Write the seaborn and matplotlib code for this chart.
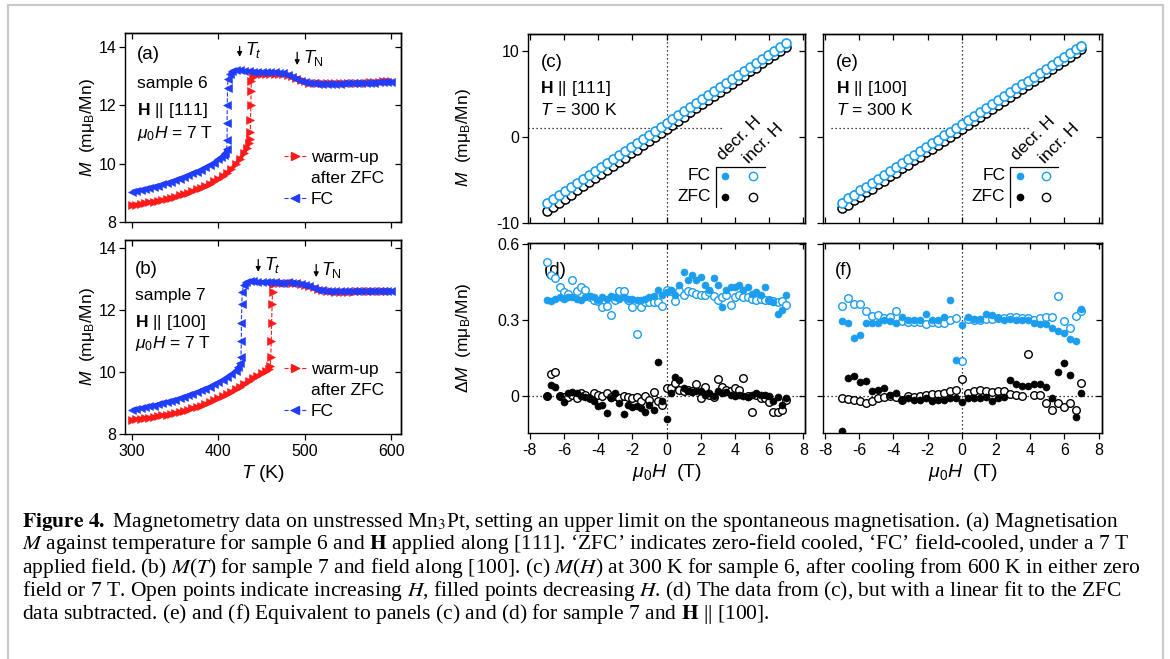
import numpy as np
import pandas as pd
import matplotlib
matplotlib.use("Agg")
import matplotlib.pyplot as plt
import seaborn as sns
from matplotlib.lines import Line2D

# ---------------------------------------------------------------- data
# (a) sample 6, H || [111], 7 T : M(T)
T_a_fc = [300, 305, 310, 315, 320, 325, 330, 335, 340, 345, 350, 355, 360, 365, 370, 375, 380, 385, 390, 395, 400,
          403, 406, 408, 409.5, 410, 410, 410.2, 410.5, 411, 413, 416,
          420, 425, 430, 435, 440, 445, 450, 455, 460, 465, 470, 475, 480, 485, 490, 495, 500, 505, 510, 515, 520,
          525, 530, 535, 540, 545, 550, 555, 560, 565, 570, 575, 580, 585, 590, 595, 600]
M_a_fc = [9.04, 9.07, 9.10, 9.13, 9.17, 9.21, 9.25, 9.29, 9.33, 9.38, 9.44, 9.49, 9.55, 9.61, 9.67, 9.73, 9.80, 9.87, 9.95, 10.04, 10.15,
          10.22, 10.30, 10.38, 10.5, 10.8, 11.4, 12.0, 12.6, 12.9, 13.08, 13.17,
          13.2, 13.2, 13.18, 13.17, 13.16, 13.15, 13.15, 13.14, 13.14, 13.13, 13.12, 13.1, 13.05, 12.98, 12.9, 12.83, 12.79, 12.76, 12.75, 12.74, 12.74,
          12.74, 12.74, 12.74, 12.74, 12.75, 12.75, 12.75, 12.76, 12.76, 12.77, 12.77, 12.78, 12.79, 12.8, 12.8, 12.81]
T_a_zfc = [300, 305, 310, 315, 320, 325, 330, 335, 340, 345, 350, 355, 360, 365, 370, 375, 380, 385, 390, 395, 400, 405, 410, 415, 420, 425, 430,
           433, 435, 436, 437, 437, 437.5, 437.8, 438, 440,
           445, 450, 455, 460, 465, 470, 475, 480, 485, 490, 495, 500, 505, 510, 515, 520, 525, 530, 535, 540, 545, 550, 555, 560,
           565, 570, 575, 580, 585, 590, 595, 600]
M_a_zfc = [8.58, 8.60, 8.62, 8.64, 8.67, 8.70, 8.73, 8.76, 8.80, 8.83, 8.87, 8.91, 8.96, 9.01, 9.06, 9.12, 9.18, 9.24, 9.31, 9.39, 9.47, 9.57, 9.68, 9.82, 9.98, 10.17, 10.38,
           10.55, 10.7, 10.85, 11.1, 11.5, 12.0, 12.5, 12.85, 13.0,
           13.05, 13.06, 13.07, 13.07, 13.07, 13.06, 13.06, 13.04, 13.0, 12.95, 12.88, 12.82, 12.78, 12.76, 12.75, 12.75, 12.75, 12.75, 12.75, 12.75, 12.76, 12.76, 12.77, 12.77,
           12.78, 12.78, 12.79, 12.8, 12.81, 12.82, 12.82, 12.83]

# (b) sample 7, H || [100], 7 T : M(T)
T_b_fc = [300, 305, 310, 315, 320, 325, 330, 335, 340, 345, 350, 355, 360, 365, 370, 375, 380, 385, 390, 395, 400, 405, 410, 415, 420,
          423, 425, 426, 426.5, 426.5, 427, 427.5, 429, 432, 436,
          440, 445, 450, 455, 460, 465, 470, 475, 480, 485, 490, 495, 500, 505, 510, 515, 520, 525, 530, 535, 540, 545, 550, 555, 560,
          565, 570, 575, 580, 585, 590, 595, 600]
M_b_fc = [8.78, 8.80, 8.83, 8.86, 8.89, 8.92, 8.96, 8.99, 9.03, 9.07, 9.11, 9.15, 9.20, 9.25, 9.30, 9.35, 9.41, 9.47, 9.53, 9.60, 9.67, 9.75, 9.84, 9.93, 10.05,
          10.15, 10.3, 10.5, 11.0, 11.6, 12.2, 12.6, 12.8, 12.9, 12.93,
          12.93, 12.92, 12.91, 12.91, 12.9, 12.9, 12.89, 12.89, 12.9, 12.89, 12.88, 12.86, 12.82, 12.77, 12.72, 12.67, 12.64, 12.62, 12.61, 12.61, 12.61, 12.61, 12.61, 12.61, 12.62,
          12.62, 12.62, 12.62, 12.62, 12.63, 12.63, 12.63, 12.63]
T_b_zfc = [300, 305, 310, 315, 320, 325, 330, 335, 340, 345, 350, 355, 360, 365, 370, 375, 380, 385, 390, 395, 400, 405, 410, 415, 420,
           425, 430, 435, 440, 445, 450, 455,
           458, 460, 460.5, 461, 461.5, 462, 462.5, 463,
           465, 470, 475, 480, 485, 490, 495, 500, 505, 510, 515, 520, 525, 530, 535, 540, 545, 550, 555, 560,
           565, 570, 575, 580, 585, 590, 595, 600]
M_b_zfc = [8.46, 8.47, 8.49, 8.51, 8.53, 8.55, 8.57, 8.60, 8.62, 8.65, 8.68, 8.71, 8.75, 8.79, 8.83, 8.87, 8.92, 8.97, 9.03, 9.09, 9.15, 9.22, 9.29, 9.37, 9.45,
           9.53, 9.62, 9.71, 9.80, 9.88, 9.96, 10.02,
           10.1, 10.2, 10.5, 11.0, 11.6, 12.2, 12.6, 12.85,
           12.87, 12.88, 12.88, 12.88, 12.88, 12.87, 12.86, 12.83, 12.79, 12.74, 12.69, 12.65, 12.63, 12.61, 12.6, 12.6, 12.6, 12.6, 12.6, 12.61,
           12.61, 12.61, 12.61, 12.62, 12.62, 12.62, 12.62, 12.62]

# transition markers (T_t, T_N) read from arrows
Tt_a, TN_a = 424.5, 491.0
Tt_b, TN_b = 446.0, 513.0

# (c), (e), (f) field grid
H_41 = [-7.0, -6.65, -6.3, -5.95, -5.6, -5.25, -4.9, -4.55, -4.2, -3.85, -3.5, -3.15, -2.8, -2.45, -2.1, -1.75, -1.4, -1.05, -0.7, -0.35, 0.0,
        0.35, 0.7, 1.05, 1.4, 1.75, 2.1, 2.45, 2.8, 3.15, 3.5, 3.85, 4.2, 4.55, 4.9, 5.25, 5.6, 5.95, 6.3, 6.65, 7.0]
# (c) M(H), sample 6, 300 K
M_c_zfc_dec = [-8.60, -8.12, -7.64, -7.17, -6.69, -6.21, -5.73, -5.26, -4.78, -4.30, -3.82, -3.35, -2.87, -2.39, -1.91, -1.44, -0.96, -0.48, 0.00, 0.47, 0.95,
               1.43, 1.90, 2.38, 2.86, 3.34, 3.81, 4.29, 4.77, 5.25, 5.72, 6.20, 6.68, 7.16, 7.63, 8.11, 8.59, 9.07, 9.54, 10.02, 10.50]
M_c_zfc_inc = [-8.62, -8.10, -7.66, -7.15, -6.70, -6.19, -5.74, -5.25, -4.79, -4.31, -3.81, -3.36, -2.86, -2.40, -1.90, -1.45, -0.95, -0.49, 0.02, 0.46, 0.97,
               1.42, 1.91, 2.37, 2.87, 3.33, 3.82, 4.28, 4.78, 5.24, 5.73, 6.19, 6.69, 7.15, 7.64, 8.10, 8.60, 9.06, 9.55, 10.01, 10.48]
M_c_fc_dec = [-7.65, -7.19, -6.72, -6.26, -5.79, -5.33, -4.86, -4.40, -3.93, -3.47, -3.00, -2.54, -2.07, -1.61, -1.14, -0.68, -0.21, 0.25, 0.72, 1.18, 1.65,
              2.12, 2.58, 3.05, 3.51, 3.98, 4.44, 4.91, 5.37, 5.84, 6.30, 6.77, 7.23, 7.70, 8.16, 8.63, 9.09, 9.56, 10.02, 10.49, 10.95]
M_c_fc_inc = [-7.70, -7.17, -6.74, -6.24, -5.80, -5.31, -4.88, -4.38, -3.95, -3.45, -3.02, -2.52, -2.09, -1.59, -1.16, -0.66, -0.23, 0.27, 0.70, 1.20, 1.67,
              2.10, 2.60, 3.03, 3.53, 3.96, 4.46, 4.89, 5.39, 5.82, 6.32, 6.75, 7.25, 7.68, 8.18, 8.61, 9.11, 9.54, 10.04, 10.47, 10.97]
# (e) M(H), sample 7, 300 K
M_e_zfc_dec = [-8.30, -7.83, -7.37, -6.90, -6.44, -5.98, -5.51, -5.05, -4.59, -4.12, -3.66, -3.19, -2.73, -2.27, -1.80, -1.34, -0.88, -0.41, 0.05, 0.52, 0.98,
               1.44, 1.91, 2.37, 2.84, 3.30, 3.76, 4.23, 4.69, 5.15, 5.62, 6.08, 6.55, 7.01, 7.47, 7.94, 8.40, 8.86, 9.33, 9.79, 10.26]
M_e_zfc_inc = [-8.28, -7.85, -7.36, -6.92, -6.43, -5.99, -5.50, -5.06, -4.58, -4.13, -3.65, -3.20, -2.72, -2.28, -1.79, -1.35, -0.87, -0.42, 0.06, 0.51, 0.99,
               1.43, 1.92, 2.36, 2.85, 3.29, 3.77, 4.22, 4.70, 5.14, 5.63, 6.07, 6.56, 7.00, 7.48, 7.93, 8.41, 8.85, 9.34, 9.78, 10.22]
M_e_fc_dec = [-7.60, -7.14, -6.68, -6.23, -5.77, -5.31, -4.85, -4.40, -3.94, -3.48, -3.02, -2.57, -2.11, -1.65, -1.19, -0.74, -0.28, 0.18, 0.63, 1.09, 1.55,
              2.01, 2.46, 2.92, 3.38, 3.84, 4.29, 4.75, 5.21, 5.67, 6.12, 6.58, 7.04, 7.50, 7.95, 8.41, 8.87, 9.33, 9.78, 10.24, 10.75]
M_e_fc_inc = [-7.62, -7.12, -6.69, -6.21, -5.78, -5.30, -4.86, -4.38, -3.95, -3.47, -3.03, -2.55, -2.12, -1.64, -1.20, -0.72, -0.29, 0.19, 0.62, 1.10, 1.56,
              2.00, 2.47, 2.91, 3.39, 3.83, 4.30, 4.74, 5.22, 5.66, 6.13, 6.57, 7.05, 7.49, 7.96, 8.40, 8.88, 9.32, 9.79, 10.22, 10.62]

# (d) Delta M, sample 6
H_57 = [-7.0, -6.75, -6.5, -6.25, -6.0, -5.75, -5.5, -5.25, -5.0, -4.75, -4.5, -4.25, -4.0, -3.75, -3.5, -3.25, -3.0, -2.75, -2.5, -2.25,
        -2.0, -1.75, -1.5, -1.25, -1.0, -0.75, -0.5, -0.25, 0.0, 0.25, 0.5, 0.75, 1.0, 1.25, 1.5, 1.75, 2.0, 2.25, 2.5, 2.75,
        3.0, 3.25, 3.5, 3.75, 4.0, 4.25, 4.5, 4.75, 5.0, 5.25, 5.5, 5.75, 6.0, 6.25, 6.5, 6.75, 7.0]
dM_d_fc_dec = [0.38, 0.375, 0.385, 0.39, 0.385, 0.39, 0.39, 0.385, 0.38, 0.39, 0.395, 0.39, 0.38, 0.39, 0.385, 0.395, 0.39, 0.385, 0.39, 0.385,
               0.385, 0.38, 0.38, 0.385, 0.39, 0.395, 0.42, 0.40, 0.41, 0.42, 0.40, 0.44, 0.49, 0.46, 0.48, 0.46, 0.47, 0.44, 0.42, 0.465,
               0.44, 0.35, 0.42, 0.43, 0.43, 0.44, 0.42, 0.43, 0.405, 0.41, 0.40, 0.43, 0.38, 0.37, 0.325, 0.34, 0.40]
dM_d_fc_inc = [0.53, 0.48, 0.465, 0.43, 0.41, 0.405, 0.46, 0.415, 0.43, 0.42, 0.39, 0.38, 0.375, 0.35, 0.355, 0.32, 0.38, 0.415, 0.415, 0.38,
               0.35, 0.245, 0.35, 0.37, 0.37, 0.37, 0.37, 0.355, 0.42, 0.415, 0.375, 0.415, 0.40, 0.415, 0.41, 0.405, 0.40, 0.40, 0.41, 0.395,
               0.38, 0.39, 0.40, 0.36, 0.39, 0.40, 0.39, 0.39, 0.385, 0.38, 0.385, 0.38, 0.38, 0.375, 0.37, 0.375, 0.36]
dM_d_zfc_dec = [0.0, 0.042, 0.036, 0.0, -0.024, 0.01, 0.016, 0.01, 0.0, -0.005, -0.01, -0.02, -0.041, -0.037, -0.067, -0.01, 0.01, -0.03, -0.07, -0.035,
                -0.045, -0.04, -0.05, -0.063, -0.035, -0.057, 0.135, -0.02, -0.09, 0.013, 0.075, 0.062, 0.03, 0.02, 0.015, 0.02, 0.02, 0.005, 0.01, 0.0,
                0.02, 0.01, 0.015, 0.005, 0.0, 0.005, 0.0, -0.005, 0.005, 0.01, 0.005, 0.005, 0.0, -0.02, -0.005, -0.037, -0.01]
dM_d_zfc_inc = [0.0, 0.085, 0.095, 0.0, -0.005, -0.005, 0.005, -0.01, 0.01, 0.005, -0.01, 0.01, 0.005, 0.0, 0.01, -0.005, 0.0, -0.01, 0.0, -0.005,
                -0.01, -0.005, -0.02, 0.0, -0.015, 0.016, -0.02, -0.037, 0.03, 0.03, 0.05, 0.025, 0.02, 0.025, 0.02, 0.046, -0.01, 0.036, 0.005, -0.005,
                0.066, 0.036, 0.025, 0.02, 0.03, 0.025, 0.07, 0.0, -0.063, 0.005, -0.01, -0.01, -0.025, -0.063, -0.063, -0.055, -0.017]

# (f) Delta M, sample 7
dM_f_fc_dec = [0.295, 0.29, 0.23, 0.24, 0.29, 0.29, 0.29, 0.30, 0.295, 0.29, 0.313, 0.30, 0.30, 0.30, 0.324, 0.30, 0.30, 0.313, 0.379, 0.143,
               0.28, 0.313, 0.305, 0.305, 0.324, 0.32, 0.31, 0.30, 0.305, 0.30, 0.30, 0.30, 0.29, 0.285, 0.285, 0.269, 0.258, 0.248, 0.225, 0.216, 0.345]
dM_f_fc_inc = [0.356, 0.389, 0.363, 0.363, 0.334, 0.317, 0.32, 0.308, 0.313, 0.334, 0.297, 0.291, 0.291, 0.291, 0.284, 0.291, 0.287, 0.287, 0.30, 0.308,
               0.136, 0.305, 0.30, 0.30, 0.304, 0.305, 0.308, 0.308, 0.313, 0.313, 0.308, 0.308, 0.30, 0.308, 0.313, 0.313, 0.396, 0.295, 0.27, 0.317, 0.335]
dM_f_zfc_dec = [-0.14, 0.07, 0.08, 0.055, 0.06, 0.02, 0.025, 0.03, 0.005, 0.01, -0.015, -0.01, -0.015, -0.017, -0.01, -0.02, -0.017, -0.015, -0.008, -0.01,
                -0.024, -0.008, -0.01, -0.01, -0.005, -0.02, -0.01, -0.005, 0.062, 0.046, 0.04, 0.04, 0.046, 0.046, 0.035, -0.01, 0.094, 0.13, 0.081, -0.083, 0.01]
dM_f_zfc_inc = [-0.01, -0.013, -0.017, -0.02, -0.028, -0.02, -0.008, -0.004, 0.0, -0.004, -0.015, 0.0, -0.004, 0.0, 0.004, 0.007, 0.007, 0.012, 0.02, 0.022,
                0.068, 0.01, 0.02, 0.022, 0.02, 0.016, 0.02, 0.02, 0.007, 0.003, 0.0, 0.164, 0.003, 0.003, -0.028, -0.054, -0.03, -0.044, -0.028, -0.054, 0.05]

# tick values
T_ticks = [300, 400, 500, 600]
MT_ticks = [8, 10, 12, 14]
H_ticks = [-8, -6, -4, -2, 0, 2, 4, 6, 8]
MH_ticks = [-10, 0, 10]
dM_ticks = [0, 0.3, 0.6]
dM_ticklabels = ["0", "0.3", "0.6"]

caption_lines = [
    r"$\mathbf{Figure\ 4.}$ Magnetometry data on unstressed Mn$_3$Pt, setting an upper limit on the spontaneous magnetisation. (a) Magnetisation",
    r"$M$ against temperature for sample 6 and $\mathbf{H}$ applied along [111]. ‘ZFC’ indicates zero-field cooled, ‘FC’ field-cooled, under a 7 T",
    r"applied field. (b) $M$($T$) for sample 7 and field along [100]. (c) $M$($H$) at 300 K for sample 6, after cooling from 600 K in either zero",
    r"field or 7 T. Open points indicate increasing $H$, filled points decreasing $H$. (d) The data from (c), but with a linear fit to the ZFC",
    r"data subtracted. (e) and (f) Equivalent to panels (c) and (d) for sample 7 and $\mathbf{H}$ || [100].",
]

# ---------------------------------------------------------------- style
RED = "#ff1a1a"
BLUE = "#1f3cff"
LBLUE = "#1c9ef0"
BLACK = "#000000"

sns.set_theme(style="ticks", rc={"axes.edgecolor": "black", "xtick.color": "black", "ytick.color": "black",
                                 "text.color": "black", "axes.labelcolor": "black"})
plt.rcParams["font.family"] = ["Liberation Sans", "DejaVu Sans"]
plt.rcParams["mathtext.fontset"] = "custom"
plt.rcParams["mathtext.rm"] = "Liberation Sans"
plt.rcParams["mathtext.it"] = "Liberation Sans:italic"
plt.rcParams["mathtext.bf"] = "Liberation Sans:bold"
plt.rcParams["mathtext.sf"] = "Liberation Sans"
plt.rcParams["axes.unicode_minus"] = False

W, HP = 1170, 659


def rect(x0, y0, x1, y1):
    return [x0 / W, 1 - y1 / HP, (x1 - x0) / W, (y1 - y0) / HP]


fig = plt.figure(figsize=(W / 100, HP / 100), dpi=100)
fig.patch.set_facecolor("white")

ax_a = fig.add_axes(rect(125, 33, 401, 222))
ax_b = fig.add_axes(rect(125, 240, 401, 434))
ax_c = fig.add_axes(rect(528, 34, 805, 223))
ax_d = fig.add_axes(rect(528, 243, 805, 433))
ax_e = fig.add_axes(rect(823, 34, 1102, 223))
ax_f = fig.add_axes(rect(823, 243, 1102, 433))

TL = 4.0
TW = 0.9
LS = 11.5


def style(ax, xt, yt, xlab=True, ylab=True, bottom_dir="out", yticklabels=None):
    ax.set_xticks(xt)
    if yticklabels is None:
        ax.set_yticks(yt)
    else:
        ax.set_yticks(yt, labels=yticklabels)
    ax.tick_params(axis="x", direction=bottom_dir, length=TL, width=TW, labelsize=LS, pad=3, labelbottom=xlab)
    ax.tick_params(axis="y", direction="out", length=TL, width=TW, labelsize=LS, pad=2, labelleft=ylab)
    sx = ax.secondary_xaxis("top")
    sx.set_ticks(xt)
    sx.tick_params(axis="x", direction="in", length=TL, width=TW, labeltop=False, labelbottom=False)
    sy = ax.secondary_yaxis("right")
    sy.set_ticks(yt)
    sy.tick_params(axis="y", direction="in", length=TL, width=TW, labelright=False, labelleft=False)
    for s in (sx, sy):
        for sp in s.spines.values():
            sp.set_linewidth(1.0)
    for sp in ax.spines.values():
        sp.set_linewidth(1.0)
        sp.set_color("black")
    ax.set_facecolor("white")


def mt_curve(ax, T, M, col, mk):
    T = np.asarray(T, dtype=float)
    M = np.asarray(M, dtype=float)
    # dense, smooth stretches of the record show up as a solid ribbon; the jumps stay thin
    slope = np.abs(np.diff(M)) / np.maximum(np.diff(T), 1e-3)
    cuts = np.concatenate([[0], np.where(slope > 0.085)[0] + 1, [len(M)]])
    for s, e in zip(cuts[:-1], cuts[1:]):
        if e - s >= 3:
            sns.lineplot(x=T[s:e], y=M[s:e], ax=ax, color=col, linewidth=2.8, estimator=None, sort=False,
                         legend=False, solid_capstyle="butt")
    sns.lineplot(x=T, y=M, ax=ax, color=col, marker=mk, markersize=5.2, markeredgecolor=col,
                 markeredgewidth=0.4, linestyle="--", linewidth=0.8, estimator=None, sort=False, legend=False)


def circles(ax, x, y, col, filled, s, lw):
    if filled:
        sns.scatterplot(x=x, y=y, ax=ax, color=col, edgecolor=col, s=s, linewidth=0.4, marker="o",
                        legend=False, zorder=3)
    else:
        sns.scatterplot(x=x, y=y, ax=ax, color="white", edgecolor=col, s=s, linewidth=lw, marker="o",
                        legend=False, zorder=3)


def arrow_label(ax, T, ytop, ybot, label, tx, ty):
    ax.annotate("", xy=(T, ybot), xytext=(T, ytop),
                arrowprops=dict(arrowstyle="-|>", lw=0.9, color="black", mutation_scale=7, shrinkA=0, shrinkB=0))
    ax.text(tx, ty, label, fontsize=13, va="baseline", ha="left")


def mt_legend(ax, y_anchor):
    h1 = Line2D([], [], color=RED, ls="--", lw=0.8, marker=">", ms=5.5, mec=RED)
    h2 = Line2D([], [], color=BLUE, ls="--", lw=0.8, marker="<", ms=5.5, mec=BLUE)
    hb = Line2D([], [], alpha=0)
    ax.legend([h1, hb, h2], ["warm-up", "after ZFC", "FC"], loc="upper left", bbox_to_anchor=(0.575, y_anchor),
              frameon=False, fontsize=12.5, handlelength=1.3, handletextpad=0.25, labelspacing=0.33,
              borderpad=0, borderaxespad=0, numpoints=1)


# ---------------------------------------------------------------- (a)
mt_curve(ax_a, T_a_zfc, M_a_zfc, RED, ">")
mt_curve(ax_a, T_a_fc, M_a_fc, BLUE, "<")
ax_a.set_xlim(292, 611)
ax_a.set_ylim(8, 14.48)
style(ax_a, T_ticks, MT_ticks, xlab=False)
ax_a.set_xlabel("")
ax_a.set_ylabel(r"$M$  (mμ$_{\rm B}$/Mn)", fontsize=12.5)
ax_a.yaxis.set_label_coords(-0.1, 0.5)
tr = ax_a.transAxes
ax_a.text(0.042, 0.861, "(a)", transform=tr, fontsize=13.5, va="baseline")
ax_a.text(0.042, 0.707, "sample 6", transform=tr, fontsize=12.5, va="baseline")
ax_a.text(0.042, 0.566, r"$\mathbf{H}$ || [111]", transform=tr, fontsize=12.5, va="baseline")
ax_a.text(0.042, 0.443, r"$\mu_0H$ = 7 T", transform=tr, fontsize=12.5, va="baseline")
arrow_label(ax_a, Tt_a, 14.02, 13.66, r"$T_t$", 430.5, 13.72)
arrow_label(ax_a, TN_a, 13.82, 13.38, r"$T_{\rm N}$", 497.5, 13.45)
mt_legend(ax_a, 0.38)

# ---------------------------------------------------------------- (b)
mt_curve(ax_b, T_b_zfc, M_b_zfc, RED, ">")
mt_curve(ax_b, T_b_fc, M_b_fc, BLUE, "<")
ax_b.set_xlim(292, 611)
ax_b.set_ylim(8, 14.27)
style(ax_b, T_ticks, MT_ticks)
ax_b.set_xlabel(r"$T$ (K)", fontsize=14, labelpad=3)
ax_b.set_ylabel(r"$M$  (mμ$_{\rm B}$/Mn)", fontsize=12.5)
ax_b.yaxis.set_label_coords(-0.1, 0.5)
tr = ax_b.transAxes
ax_b.text(0.036, 0.823, "(b)", transform=tr, fontsize=13.5, va="baseline")
ax_b.text(0.036, 0.69, "sample 7", transform=tr, fontsize=12.5, va="baseline")
ax_b.text(0.036, 0.553, r"$\mathbf{H}$ || [100]", transform=tr, fontsize=12.5, va="baseline")
ax_b.text(0.036, 0.442, r"$\mu_0H$ = 7 T", transform=tr, fontsize=12.5, va="baseline")
arrow_label(ax_b, Tt_b, 13.64, 13.24, r"$T_t$", 452.5, 13.3)
arrow_label(ax_b, TN_b, 13.48, 13.07, r"$T_{\rm N}$", 519.0, 13.14)
mt_legend(ax_b, 0.37)


# ---------------------------------------------------------------- (c) / (e)
def mh_panel(ax, M_zd, M_zi, M_fd, M_fi, label, field, hl_xmin, hl_xmax, leg):
    ax.axvline(0, color="black", ls=(0, (1, 2.2)), lw=0.9, zorder=1)
    ax.axhline(1.05, xmin=hl_xmin, xmax=hl_xmax, color="black", ls=(0, (1, 2.2)), lw=0.9, zorder=1)
    circles(ax, H_41, M_zd, BLACK, True, 30, 1.0)
    circles(ax, H_41, M_zi, BLACK, False, 42, 1.1)
    circles(ax, H_41, M_fd, LBLUE, True, 30, 1.0)
    circles(ax, H_41, M_fi, LBLUE, False, 42, 1.2)
    tr = ax.transAxes
    ax.text(0.045, 0.827, label, transform=tr, fontsize=13.5, va="baseline")
    ax.text(0.045, 0.689, r"$\mathbf{H}$ || " + field, transform=tr, fontsize=12.5, va="baseline")
    ax.text(0.045, 0.571, r"$T$ = 300 K", transform=tr, fontsize=12.5, va="baseline")
    # small key table
    xv, xh, xm1, xm2, xt1, xt2 = leg
    ax.plot([xv, xv], [0.086, 0.298], color="black", lw=0.9, transform=tr)
    ax.plot([xv, xh], [0.298, 0.298], color="black", lw=0.9, transform=tr)
    ax.plot([xm1], [0.249], "o", color=LBLUE, ms=4.5, mec=LBLUE, transform=tr)
    ax.plot([xm2], [0.249], "o", mfc="white", mec=LBLUE, ms=6, mew=1.0, transform=tr)
    ax.plot([xm1], [0.138], "o", color=BLACK, ms=4.5, transform=tr)
    ax.plot([xm2], [0.138], "o", mfc="white", mec=BLACK, ms=6, mew=1.0, transform=tr)
    ax.text(xv - 0.018, 0.249, "FC", transform=tr, fontsize=12.5, ha="right", va="center")
    ax.text(xv - 0.018, 0.138, "ZFC", transform=tr, fontsize=12.5, ha="right", va="center")
    ax.text(xt1, 0.33, "decr. H", transform=tr, fontsize=12.5, rotation=45, rotation_mode="anchor",
            ha="left", va="baseline")
    ax.text(xt2, 0.31, "incr. H", transform=tr, fontsize=12.5, rotation=45, rotation_mode="anchor",
            ha="left", va="baseline")


mh_panel(ax_c, M_c_zfc_dec, M_c_zfc_inc, M_c_fc_dec, M_c_fc_inc, "(c)", "[111]", 0.0, 0.70,
         (0.678, 0.856, 0.711, 0.812, 0.705, 0.797))
ax_c.set_xlim(-8.1, 8.1)
ax_c.set_ylim(-10, 12)
style(ax_c, H_ticks, MH_ticks, xlab=False, bottom_dir="in")
ax_c.set_xlabel("")
ax_c.set_ylabel(r"$M$  (mμ$_{\rm B}$/Mn)", fontsize=12.5)
ax_c.yaxis.set_label_coords(-0.2, 0.45)

mh_panel(ax_e, M_e_zfc_dec, M_e_zfc_inc, M_e_fc_dec, M_e_fc_inc, "(e)", "[100]", 0.03, 0.74,
         (0.672, 0.842, 0.706, 0.799, 0.696, 0.795))
ax_e.set_xlim(-8.12, 8.2)
ax_e.set_ylim(-10, 12)
style(ax_e, H_ticks, MH_ticks, xlab=False, ylab=False, bottom_dir="in")
ax_e.set_xlabel("")
ax_e.set_ylabel("")


# ---------------------------------------------------------------- (d) / (f)
def dm_panel(ax, H, fd, fi, zd, zi, label, lx):
    ax.axvline(0, color="black", ls=(0, (1, 2.2)), lw=0.9, zorder=1)
    ax.axhline(0, color="black", ls=(0, (1, 2.2)), lw=0.9, zorder=1)
    ax.text(lx, 0.832, label, transform=ax.transAxes, fontsize=13.5, va="baseline", zorder=0)
    circles(ax, H, fi, LBLUE, False, 30, 1.0)
    circles(ax, H, fd, LBLUE, True, 26, 1.0)
    circles(ax, H, zi, BLACK, False, 30, 1.0)
    circles(ax, H, zd, BLACK, True, 26, 1.0)


dm_panel(ax_d, H_57, dM_d_fc_dec, dM_d_fc_inc, dM_d_zfc_dec, dM_d_zfc_inc, "(d)", 0.058)
ax_d.set_xlim(-8.1, 8.1)
ax_d.set_ylim(-0.147, 0.605)
style(ax_d, H_ticks, dM_ticks, yticklabels=dM_ticklabels)
ax_d.set_xlabel(r"$\mu_0H$  (T)", fontsize=14, labelpad=3)
ax_d.set_ylabel(r"$\mathit{\Delta}M$  (mμ$_{\rm B}$/Mn)", fontsize=12.5)
ax_d.yaxis.set_label_coords(-0.2, 0.5)

dm_panel(ax_f, H_41, dM_f_fc_dec, dM_f_fc_inc, dM_f_zfc_dec, dM_f_zfc_inc, "(f)", 0.043)
ax_f.set_xlim(-8.12, 8.2)
ax_f.set_ylim(-0.147, 0.605)
style(ax_f, H_ticks, dM_ticks, ylab=False, yticklabels=dM_ticklabels)
ax_f.set_xlabel(r"$\mu_0H$  (T)", fontsize=14, labelpad=3)
ax_f.set_ylabel("")

# ---------------------------------------------------------------- caption
cap_base = [526.5, 549.5, 572.5, 596.0, 618.5]
caps = []
for line, yb in zip(caption_lines, cap_base):
    t = fig.text(22 / W, 1 - yb / HP, line, fontsize=13.5, family=["Liberation Serif", "DejaVu Serif"],
                 math_fontfamily="stix", ha="left", va="baseline")
    caps.append(t)
renderer = fig.canvas.get_renderer()
targets = [1106, 1096, 1118, 1094]
ratios = [tg / caps[i].get_window_extent(renderer).width for i, tg in enumerate(targets)]
scale = float(np.mean(ratios))
for t in caps:
    t.set_fontsize(13.5 * scale)

# frame around the figure block
gc = "#c8c8c8"
fig.add_artist(Line2D([8 / W, 8 / W], [0, 1 - 5 / HP], transform=fig.transFigure, color=gc, lw=1.5))
fig.add_artist(Line2D([8 / W, 1163 / W], [1 - 5 / HP, 1 - 5 / HP], transform=fig.transFigure, color=gc, lw=1.5))
fig.add_artist(Line2D([1163 / W, 1163 / W], [0, 1 - 5 / HP], transform=fig.transFigure, color=gc, lw=1.5))

fig.savefig("out.png", dpi=100, facecolor="white")
